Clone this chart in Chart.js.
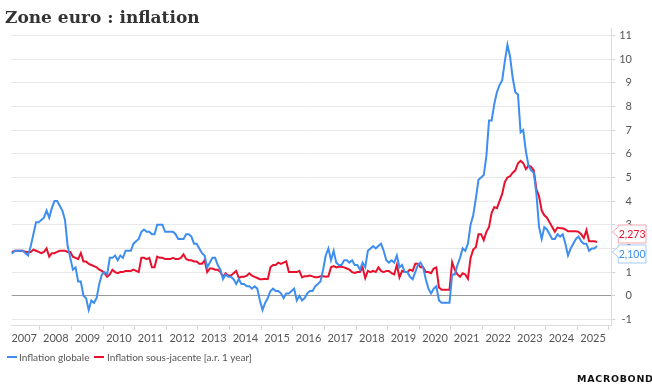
<!DOCTYPE html>
<html><head><meta charset="utf-8">
<script src="https://cdn.jsdelivr.net/npm/chart.js@4.4.1/dist/chart.umd.min.js"></script>
<style>
html,body{margin:0;padding:0;background:#fff;}
#wrap{position:relative;width:652px;height:388px;overflow:hidden;background:#fff;}
#c{position:absolute;left:0;top:0;}
#title{position:absolute;left:5px;top:4px;font:bold 17px "DejaVu Serif",serif;line-height:26px;color:#333;white-space:nowrap;}
.sw{position:absolute;width:10px;height:2px;}
.leg{position:absolute;top:350px;font:10px Lato,sans-serif;line-height:14px;color:#555;white-space:nowrap;}
#logo{position:absolute;left:577px;top:373px;font:bold 9.5px "DejaVu Sans",sans-serif;line-height:11px;letter-spacing:0.7px;color:#111;white-space:nowrap;}
</style></head>
<body><div id="wrap">
<canvas id="c" width="652" height="388"></canvas>
<div id="title">Zone euro : inflation</div>
<div class="sw" style="left:7px;top:356px;background:#3d8ef0"></div>
<div class="leg" style="left:19px">Inflation globale</div>
<div class="sw" style="left:94px;top:356px;background:#e8112d"></div>
<div class="leg" style="left:107px">Inflation sous-jacente [a.r. 1 year]</div>
<div id="logo">MACROBOND</div>
</div>
<script>
// Monthly series, Jan 2007 .. Aug 2025 (y/y %)
const startYear = 2007;
const headline = [
1.8,1.8,1.9,1.9,1.9,1.9,1.8,1.7,2.1,2.6,3.1,3.1,
3.2,3.3,3.6,3.3,3.7,4.0,4.0,3.8,3.6,3.2,2.1,1.6,
1.1,1.2,0.6,0.6,0.0,-0.1,-0.6,-0.2,-0.3,-0.1,0.5,0.9,
1.0,0.9,1.6,1.6,1.7,1.5,1.7,1.6,1.9,1.9,1.9,2.2,
2.3,2.4,2.7,2.8,2.7,2.7,2.6,2.6,3.0,3.0,3.0,2.7,
2.7,2.7,2.7,2.6,2.4,2.4,2.4,2.6,2.6,2.5,2.2,2.2,
2.0,1.8,1.7,1.2,1.4,1.6,1.6,1.3,1.1,0.7,0.9,0.8,
0.8,0.7,0.5,0.7,0.5,0.5,0.4,0.4,0.3,0.4,0.3,-0.2,
-0.6,-0.3,-0.1,0.2,0.3,0.2,0.2,0.1,-0.1,0.1,0.1,0.2,
0.3,-0.2,0.0,-0.2,-0.1,0.1,0.2,0.2,0.4,0.5,0.6,1.1,
1.7,2.0,1.5,1.9,1.4,1.3,1.3,1.5,1.5,1.4,1.5,1.3,
1.3,1.1,1.4,1.2,1.9,2.0,2.1,2.0,2.1,2.2,1.9,1.5,
1.4,1.5,1.4,1.7,1.2,1.3,1.0,1.0,0.8,0.7,1.0,1.3,
1.4,1.2,0.7,0.3,0.1,0.3,0.4,-0.2,-0.3,-0.3,-0.3,-0.3,
0.9,0.9,1.3,1.6,2.0,1.9,2.2,3.0,3.4,4.1,4.9,5.0,
5.1,5.9,7.4,7.4,8.1,8.6,8.9,9.1,9.9,10.6,10.1,9.2,
8.6,8.5,6.9,7.0,6.1,5.5,5.3,5.2,4.3,2.9,2.4,2.9,
2.8,2.6,2.4,2.4,2.6,2.5,2.6,2.2,1.7,2.0,2.2,2.4,
2.5,2.3,2.2,2.2,1.9,2.0,2.0,2.1
];
const core = [
1.85,1.85,1.9,1.9,1.9,1.9,1.85,1.85,1.85,1.95,1.9,1.85,
1.8,1.85,2.0,1.65,1.8,1.8,1.85,1.9,1.9,1.9,1.85,1.85,
1.65,1.6,1.55,1.8,1.45,1.45,1.35,1.3,1.25,1.2,1.1,1.05,
0.95,0.8,0.9,1.1,1.0,0.95,1.0,1.0,1.05,1.05,1.05,1.1,
1.05,1.0,1.6,1.6,1.55,1.6,1.2,1.2,1.65,1.6,1.6,1.55,
1.55,1.55,1.6,1.55,1.55,1.6,1.75,1.55,1.5,1.5,1.45,1.45,
1.35,1.35,1.5,1.0,1.15,1.15,1.1,1.1,1.0,0.8,0.95,0.85,
0.85,0.95,1.05,0.75,0.8,0.8,0.85,0.95,0.85,0.8,0.75,0.7,
0.7,0.72,0.7,1.2,1.3,1.3,1.4,1.35,1.4,1.45,1.0,1.0,
1.0,1.0,1.05,0.78,0.82,0.82,0.85,0.82,0.78,0.78,0.82,0.82,
0.8,0.82,1.2,1.25,1.2,1.22,1.22,1.2,1.15,1.1,1.0,0.96,
1.0,1.0,1.2,0.75,1.05,1.0,1.05,1.0,1.2,1.05,1.0,1.05,
1.05,0.95,0.9,1.3,0.78,1.05,1.0,1.0,1.1,1.05,1.35,1.35,
1.2,1.2,1.0,1.0,0.95,1.15,1.2,0.35,0.25,0.25,0.25,0.25,
1.42,1.1,0.9,0.8,0.95,0.9,0.72,1.6,1.95,2.05,2.6,2.6,
2.35,2.7,2.9,3.5,3.75,3.7,4.0,4.3,4.8,5.0,5.05,5.2,
5.3,5.6,5.7,5.6,5.35,5.5,5.45,5.3,4.5,4.2,3.6,3.4,
3.3,3.1,2.9,2.7,2.88,2.85,2.85,2.8,2.72,2.72,2.72,2.72,
2.7,2.6,2.44,2.77,2.3,2.3,2.3,2.273
];
const yearLabels = ['2007','2008','2009','2010','2011','2012','2013','2014','2015','2016','2017','2018','2019','2020','2021','2022','2023','2024','2025'];
const yTicks = [-1,0,1,2,3,4,5,6,7,8,9,10,11];
const seriesNames = ['Inflation globale','Inflation sous-jacente [a.r. 1 year]'];
const colors = {blue:'#3d8ef0', red:'#e8112d', blueBorder:'#a3c9f5', redBorder:'#f4a6ae'};

const toXY = arr => arr.map((v,i)=>({x: startYear + (i+0.5)/12, y: v}));
const fmt = v => v.toFixed(3).replace('.', ',');

const callout = {
  id:'callout',
  afterDatasetsDraw(chart){
    const ctx = chart.ctx, y = chart.scales.y, area = chart.chartArea;
    const items = [
      {v: core[core.length-1], c: colors.red, b: colors.redBorder},
      {v: headline[headline.length-1], c: colors.blue, b: colors.blueBorder}
    ].map(o => Object.assign(o, {py: y.getPixelForValue(o.v)}));
    const h = 18, gap = 20;
    const mid = (items[0].py + items[1].py) / 2;
    items[0].cy = Math.min(items[0].py, mid - gap/2);
    items[1].cy = Math.max(items[1].py, mid + gap/2);
    ctx.save();
    ctx.font = '10.5px Lato, sans-serif';
    ctx.textAlign = 'center'; ctx.textBaseline = 'middle';
    items.forEach(o => {
      const L = area.right + 7, R = 646, T = o.cy - h/2, B = o.cy + h/2, tipX = area.right + 1, ty = o.cy - 2;
      ctx.beginPath();
      ctx.moveTo(L, T); ctx.lineTo(R, T); ctx.lineTo(R, B); ctx.lineTo(L, B);
      ctx.lineTo(L, ty + 5); ctx.lineTo(tipX, ty); ctx.lineTo(L, ty - 5); ctx.closePath();
      ctx.fillStyle = '#fff'; ctx.fill();
      ctx.strokeStyle = o.b; ctx.lineWidth = 1; ctx.stroke();
      ctx.fillStyle = o.c; ctx.fillText(fmt(o.v), (L+R)/2, o.cy + 0.5);
    });
    ctx.restore();
  }
};

new Chart(document.getElementById('c'), {
  type:'line',
  data:{datasets:[
    {label:seriesNames[0], data:toXY(headline), borderColor:colors.blue, borderWidth:2, pointRadius:0, tension:0},
    {label:seriesNames[1], data:toXY(core), borderColor:colors.red, borderWidth:2, pointRadius:0, tension:0}
  ]},
  options:{
    responsive:false, animation:false, devicePixelRatio:1,
    layout:{padding:{left:11.7, top:28.3, right:20, bottom:41}},
    plugins:{legend:{display:false}, tooltip:{enabled:false}, title:{display:false}},
    scales:{
      x:{type:'linear', min:2007.105, max:2026.076,
        afterBuildTicks: s => { s.ticks = yearLabels.map((l,i)=>({value: startYear+1+i})); },
        ticks:{autoSkip:false, maxRotation:0, minRotation:0, labelOffset:-15.8, padding:2, color:'#555',
          font:{family:'Lato', size:11}, callback:(v,i)=>yearLabels[i]},
        grid:{drawOnChartArea:false, drawTicks:true, tickLength:4, color:'#d4d4d4'},
        border:{display:true, color:'#dcdcdc'}
      },
      y:{type:'linear', position:'right', min:-1.27, max:11.3,
        afterBuildTicks: s => { s.ticks = yTicks.map(v=>({value:v})); },
        ticks:{crossAlign:'far', padding:2, color:'#555', font:{family:'Lato', size:11}, callback:v=>String(v)},
        grid:{color:c => (c.tick && c.tick.value===0) ? '#9a9a9a' : '#e8e8e8', tickColor:'#d4d4d4', tickLength:4, drawTicks:true},
        border:{display:true, color:'#dcdcdc'}
      }
    }
  },
  plugins:[callout]
});
</script>
</body></html>
